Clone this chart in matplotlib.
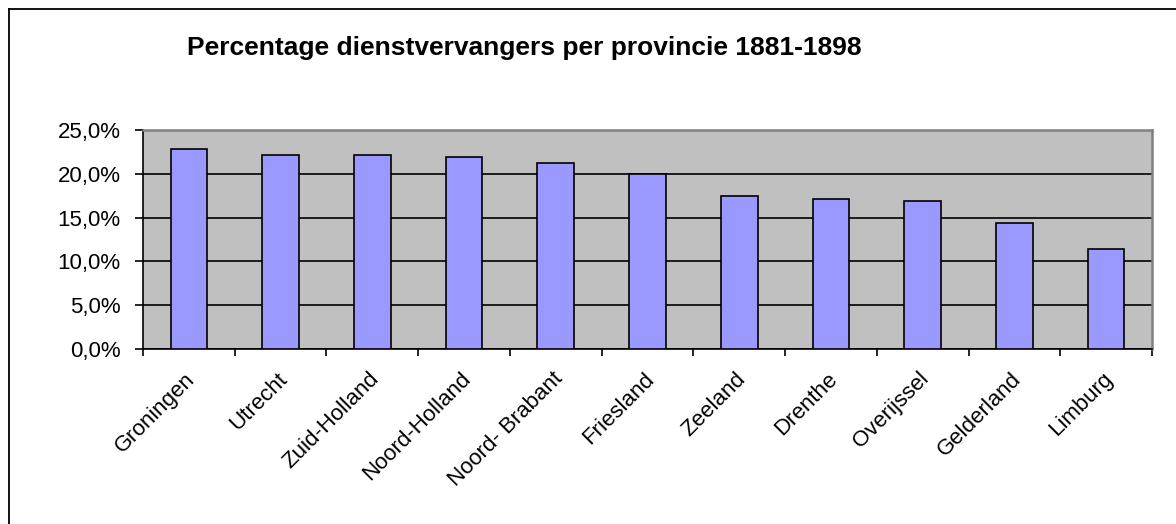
import matplotlib
matplotlib.use("Agg")
import matplotlib.pyplot as plt
import numpy as np
from matplotlib.ticker import FuncFormatter
from matplotlib.lines import Line2D
from matplotlib.transforms import ScaledTranslation

provincies = ["Groningen", "Utrecht", "Zuid-Holland", "Noord-Holland", "Noord- Brabant",
              "Friesland", "Zeeland", "Drenthe", "Overijssel", "Gelderland", "Limburg"]
percentages = [22.8, 22.2, 22.2, 21.9, 21.2, 20.0, 17.5, 17.1, 16.9, 14.4, 11.4]
yticks = [0, 5, 10, 15, 20, 25]
title = "Percentage dienstvervangers per provincie 1881-1898"

plt.rcParams['font.family'] = ['Liberation Sans', 'DejaVu Sans']

W, H = 1176, 524
fig = plt.figure(figsize=(W / 100, H / 100), dpi=100)
fig.patch.set_facecolor("white")

# axes placed in pixel terms
left, right, top, bottom = 143, 1152, 130, 349
ax = fig.add_axes([left / W, 1 - bottom / H, (right - left) / W, (bottom - top) / H])
ax.set_facecolor("#C0C0C0")

x = np.arange(len(provincies))
ax.bar(x, percentages, width=0.4, color="#9999FF", edgecolor="black", linewidth=1.2, zorder=3)

ax.set_xlim(-0.5, len(provincies) - 0.5)
ax.set_ylim(0, 25)
ax.set_yticks(yticks)
ax.yaxis.set_major_formatter(FuncFormatter(lambda v, p: ("%.1f%%" % v).replace(".", ",")))
ax.yaxis.grid(True, color="black", linewidth=1.2, zorder=1)
ax.set_axisbelow(True)

ax.set_xticks(x)
ax.set_xticklabels(provincies, rotation=45, ha="right", va="top", rotation_mode="anchor")
ax.set_xticks(np.arange(len(provincies) + 1) - 0.5, minor=True)
ax.tick_params(axis="x", which="major", length=0, pad=14, labelsize=16)
ax.tick_params(axis="x", which="minor", length=5, width=1.2, color="black")
ax.tick_params(axis="y", length=6, width=1.2, color="black", labelsize=16, pad=10)
for lab in ax.get_xticklabels():
    lab.set_transform(lab.get_transform() + ScaledTranslation(-0.04, 0, fig.dpi_scale_trans))

for s in ["left", "bottom"]:
    ax.spines[s].set_color("black")
    ax.spines[s].set_linewidth(1.2)
for s in ["top", "right"]:
    ax.spines[s].set_color("#808080")
    ax.spines[s].set_linewidth(1.8)

fig.text(524 / W, 1 - 48 / H, title, ha="center", va="center", fontsize=19, fontweight="bold")

# outer chart frame (runs off right and bottom edges)
fig.add_artist(Line2D([9 / W, 9 / W], [1 - 9 / H, -0.1], transform=fig.transFigure, color="black", linewidth=1.3))
fig.add_artist(Line2D([9 / W, 1.1], [1 - 9 / H, 1 - 9 / H], transform=fig.transFigure, color="black", linewidth=1.3))

fig.savefig("out.png", dpi=100)
